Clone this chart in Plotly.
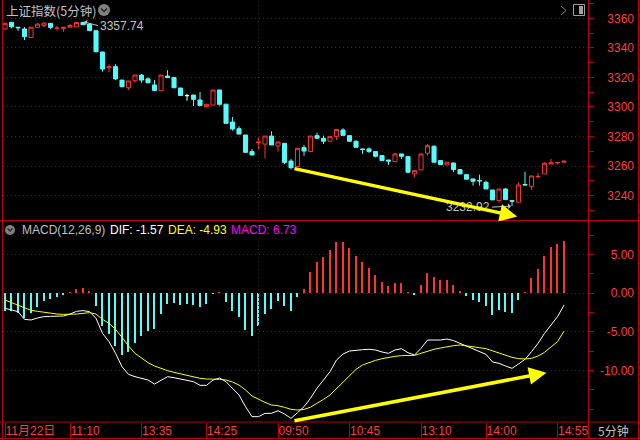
import plotly.graph_objects as go

# ---------------- data ----------------
bar_idx = list(range(87))
opens = [3352.8, 3357.3, 3354.0, 3352.8, 3347.0, 3353.9, 3355.0, 3356.6, 3353.2, 3353.2,
         3354.0, 3354.2, 3357.2, 3356.1, 3351.6, 3337.2, 3326.6, 3327.3, 3318.2, 3313.0,
         3317.8, 3321.6, 3319.0, 3314.9, 3311.0, 3320.9, 3320.0, 3312.8, 3307.7, 3308.1,
         3304.7, 3300.2, 3301.3, 3311.5, 3301.9, 3289.8, 3285.3, 3281.0, 3269.8,
         3276.0, 3274.9, 3280.3, 3273.6, 3275.4, 3263.4, 3259.6, 3272.5, 3269.8, 3280.6,
         3278.8, 3276.8, 3279.9, 3284.4, 3280.6, 3276.8, 3271.6, 3271.6, 3269.8, 3267.1,
         3264.1, 3263.0, 3268.2, 3266.4, 3254.7, 3257.4, 3268.7, 3273.4, 3263.7, 3260.8,
         3262.1, 3257.6, 3254.2, 3251.3, 3250.2, 3249.0, 3243.8, 3236.6, 3244.5, 3236.6,
         3235.5, 3247.5, 3246.3, 3252.8, 3254.7, 3261.4, 3262.1, 3262.6]
highs = [3357.0, 3357.5, 3354.1, 3354.1, 3354.0, 3356.8, 3356.9, 3356.7, 3354.8, 3353.9,
         3356.1, 3357.4, 3357.74, 3356.4, 3352.0, 3337.4, 3328.8, 3329.0, 3318.4, 3317.6,
         3321.6, 3322.3, 3320.1, 3318.2, 3321.6, 3324.9, 3320.2, 3313.0, 3308.8, 3308.2,
         3310.1, 3301.8, 3311.5, 3311.6, 3302.0, 3293.2, 3286.9, 3281.1, 3271.6,
         3279.9, 3280.3, 3283.6, 3276.3, 3275.5, 3264.8, 3272.0, 3274.3, 3280.3, 3282.6,
         3280.6, 3279.9, 3284.7, 3285.6, 3280.7, 3277.3, 3271.7, 3272.7, 3269.9, 3267.2,
         3264.2, 3268.9, 3268.3, 3266.5, 3256.9, 3268.2, 3275.0, 3274.0, 3263.8, 3262.6,
         3262.2, 3257.7, 3254.3, 3251.4, 3254.2, 3250.2, 3243.9, 3244.5, 3245.0, 3236.7,
         3249.0, 3256.2, 3253.3, 3255.3, 3262.6, 3264.8, 3262.4, 3263.3]
lows = [3352.1, 3353.2, 3351.4, 3345.3, 3346.9, 3353.7, 3354.1, 3352.6, 3351.7, 3350.9,
        3353.9, 3354.1, 3355.5, 3351.6, 3337.0, 3323.9, 3323.5, 3318.2, 3313.5, 3311.5,
        3316.4, 3316.4, 3316.0, 3311.0, 3311.0, 3319.8, 3312.8, 3307.7, 3304.2, 3300.6,
        3300.9, 3299.7, 3301.3, 3300.9, 3288.5, 3284.0, 3281.5, 3268.9, 3267.4,
        3271.3, 3265.3, 3274.3, 3269.8, 3261.4, 3257.8, 3259.6, 3267.0, 3269.5, 3278.8,
        3275.0, 3276.8, 3277.7, 3280.8, 3276.8, 3272.7, 3268.2, 3268.9, 3265.9, 3263.7,
        3260.8, 3262.6, 3264.8, 3255.5, 3252.4, 3257.4, 3267.1, 3262.6, 3261.0, 3260.8,
        3255.8, 3254.7, 3251.1, 3246.8, 3246.8, 3244.5, 3237.1, 3235.3, 3237.3, 3232.92,
        3235.5, 3247.2, 3243.8, 3251.9, 3254.7, 3261.4, 3261.0, 3262.6]
closes = [3356.6, 3354.3, 3353.6, 3347.6, 3354.0, 3356.1, 3356.8, 3353.9, 3353.4, 3353.9,
          3355.2, 3357.2, 3355.7, 3351.7, 3337.4, 3325.7, 3327.3, 3319.0, 3313.7, 3317.6,
          3321.6, 3318.2, 3316.4, 3311.2, 3321.6, 3319.9, 3313.0, 3307.8, 3307.7, 3305.2,
          3301.0, 3301.8, 3311.5, 3301.8, 3288.9, 3285.1, 3281.7, 3269.3, 3267.5,
          3276.3, 3280.3, 3274.3, 3276.3, 3262.5, 3258.9, 3272.0, 3270.2, 3280.3, 3278.8,
          3276.8, 3279.9, 3284.7, 3280.8, 3276.8, 3272.7, 3271.2, 3269.8, 3266.6, 3263.7,
          3263.4, 3268.2, 3266.6, 3255.8, 3256.9, 3268.2, 3273.8, 3262.6, 3261.0, 3262.6,
          3257.6, 3254.7, 3251.1, 3249.7, 3250.0, 3244.5, 3237.1, 3244.5, 3237.3, 3236.2,
          3247.2, 3247.2, 3253.3, 3253.0, 3261.9, 3262.3, 3262.4, 3263.3]
macd_hist = [-2.28, -2.28, -2.54, -3.19, -2.54, -1.77, -0.99, -0.73, -0.56, -0.30,
             0.03, 0.47, 0.65, 0.30, -1.64, -4.27, -5.34, -6.85, -7.97, -7.63,
             -6.42, -5.56, -4.87, -4.61, -2.72, -1.42, -1.25, -1.55, -1.42, -1.55,
             -1.77, -1.42, -0.03, 0.13, -1.16, -2.33, -3.10, -4.78, -5.52,
             -4.27, -2.72, -2.07, -1.03, -1.64, -2.33, -0.52, 0.52, 2.72, 4.01,
             4.70, 5.56, 6.64, 6.64, 5.82, 4.83, 4.01, 3.23, 2.33, 1.42,
             0.91, 1.29, 1.29, 0.13, -0.13, 1.03, 2.59, 2.07, 1.68, 1.68,
             1.03, 0.26, -0.34, -0.91, -1.16, -1.68, -2.80, -2.20, -2.41, -2.54,
             -0.91, 0.13, 1.98, 3.10, 4.83, 5.99, 6.34, 6.73]
dif = [-1.98, -2.20, -2.41, -3.41, -3.49, -3.23, -3.06, -3.02, -2.97, -2.97,
       -2.72, -2.37, -2.28, -2.41, -3.28, -5.22, -6.29, -7.80, -9.53, -10.52,
       -10.82, -11.03, -11.25, -11.77, -11.25, -10.82, -10.95, -11.12, -11.25, -11.47,
       -11.94, -11.94, -11.25, -10.99, -11.47, -12.33, -13.19, -14.70, -15.99,
       -15.99, -15.56, -15.56, -15.22, -15.65, -16.21, -15.47, -14.70, -13.60, -12.30,
       -11.25, -10.17, -8.66, -7.89, -7.50, -7.37, -7.33, -7.28, -7.37, -7.63,
       -7.80, -7.37, -7.20, -7.72, -8.02, -7.16, -6.08, -6.08, -6.08, -5.95,
       -6.16, -6.51, -6.85, -7.24, -7.50, -7.93, -8.92, -9.09, -9.44, -9.74,
       -9.18, -8.58, -7.59, -6.51, -5.22, -4.14, -3.06, -1.57]
dea = [-0.91, -1.25, -1.55, -1.98, -2.24, -2.37, -2.50, -2.67, -2.72, -2.76,
       -2.76, -2.72, -2.63, -2.54, -2.72, -3.41, -3.92, -4.70, -5.73, -6.85,
       -7.80, -8.45, -9.01, -9.44, -9.78, -10.04, -10.26, -10.47, -10.69, -10.91,
       -11.03, -11.12, -11.12, -11.16, -11.25, -11.51, -11.90, -12.54, -13.32,
       -13.75, -14.14, -14.48, -14.57, -14.78, -15.04, -15.13, -15.05, -14.77, -14.31,
       -13.75, -13.19, -12.37, -11.47, -10.60, -9.87, -9.31, -8.97, -8.71, -8.49,
       -8.32, -8.19, -8.10, -8.06, -8.06, -7.80, -7.50, -7.28, -7.11, -6.94,
       -6.81, -6.72, -6.81, -6.94, -7.07, -7.20, -7.50, -7.76, -8.02, -8.32,
       -8.49, -8.53, -8.45, -8.15, -7.67, -7.03, -6.29, -4.93]

tick_idx = [0, 10, 21, 31, 42, 53, 64, 74, 85]
tick_text = ["11月22日", "11:10", "13:35", "14:25", "09:50", "10:45", "13:10", "14:00", "14:55"]
price_ticks = [3240, 3260, 3280, 3300, 3320, 3340, 3360]
price_tick_text = ["3240", "3260", "3280", "3300", "3320", "3340", "3360"]
macd_ticks = [-10, -5, 0, 5]
macd_tick_text = ["-10.00", "-5.00", "0.00", "5.00"]
day_break = 39
max_bar, max_price = 12, 3357.74
min_bar, min_price = 78, 3232.92
dif_last, dea_last, macd_last = -1.57, -4.93, 6.73
arrow_price = [(44.3, 3258.5), (78.8, 3225.8)]   # tail, head
arrow_macd = [(44.3, -16.55), (83.3, -10.3)]

# ---------------- styling ----------------
W, H = 640, 440
ML, MR, MT, MB = 3, 0, 0, 18
PW, PH = W - ML - MR, H - MT - MB
def pxx(px):
    return (px - ML) / PW
def pxy(py):
    return 1 - (py - MT) / PH

BORDER = "#c00000"
GRID = "#a00000"
LBL = "#ff3c3c"
RED = "#ff3232"
CYAN = "#54fcfc"
GREY = "#c0c0c0"
YELLOW = "#ffff00"
FONT = "Liberation Sans, Arial, Noto Sans CJK SC, sans-serif"
CJK = "Noto Sans CJK SC, Liberation Sans, sans-serif"

x_range = [-0.31, 89.69]
price_range = [3223.5, 3372.4]
macd_range = [-16.68, 9.31]

doji_mask = [o == c for o, c in zip(opens, closes)]
def pick(vals, keep):
    return [v if k else None for v, k in zip(vals, keep)]
normal = [not d for d in doji_mask]

fig = go.Figure()
fig.add_trace(go.Candlestick(
    x=bar_idx, open=pick(opens, normal), high=pick(highs, normal),
    low=pick(lows, normal), close=pick(closes, normal),
    increasing=dict(line=dict(color=RED, width=1), fillcolor="#000000"),
    decreasing=dict(line=dict(color=CYAN, width=1), fillcolor=CYAN),
    whiskerwidth=0, xaxis="x", yaxis="y", hoverinfo="skip", showlegend=False))
fig.add_trace(go.Candlestick(
    x=bar_idx, open=pick(opens, doji_mask), high=pick(highs, doji_mask),
    low=pick(lows, doji_mask), close=pick(closes, doji_mask),
    increasing=dict(line=dict(color="#ffffff", width=1), fillcolor="#ffffff"),
    decreasing=dict(line=dict(color="#ffffff", width=1), fillcolor="#ffffff"),
    whiskerwidth=0, xaxis="x", yaxis="y", hoverinfo="skip", showlegend=False))

fig.add_trace(go.Bar(
    x=bar_idx, y=macd_hist, width=0.17,
    marker=dict(color=[RED if v >= 0 else CYAN for v in macd_hist], line=dict(width=0)),
    xaxis="x2", yaxis="y2", hoverinfo="skip", showlegend=False))
fig.add_trace(go.Scatter(x=bar_idx, y=dif, mode="lines", line=dict(color="#ffffff", width=1),
                         xaxis="x2", yaxis="y2", hoverinfo="skip", showlegend=False))
fig.add_trace(go.Scatter(x=bar_idx, y=dea, mode="lines", line=dict(color=YELLOW, width=1),
                         xaxis="x2", yaxis="y2", hoverinfo="skip", showlegend=False))
# helpers so label-only axes are drawn
fig.add_trace(go.Scatter(x=[bar_idx[0]], y=[closes[0]], mode="markers", marker=dict(opacity=0),
                         xaxis="x", yaxis="y3", hoverinfo="skip", showlegend=False))
fig.add_trace(go.Scatter(x=[bar_idx[0]], y=[dif[0]], mode="markers", marker=dict(opacity=0),
                         xaxis="x2", yaxis="y4", hoverinfo="skip", showlegend=False))

x_dom = [0, pxx(588)]
common_y = dict(side="right", ticks="outside", ticklen=5, tickcolor=BORDER, tickwidth=1,
                showticklabels=False, showgrid=True, gridcolor=GRID, griddash="1px,3px",
                gridwidth=1, zeroline=False, showline=False, fixedrange=True)
label_y = dict(anchor="free", side="left", position=pxx(634), ticks="", showgrid=False,
               zeroline=False, showline=False, tickfont=dict(color=LBL, size=12, family=FONT))

fig.update_layout(
    width=W, height=H, margin=dict(l=ML, r=MR, t=MT, b=MB),
    paper_bgcolor="#000000", plot_bgcolor="#000000",
    hovermode=False, showlegend=False, boxgap=0.1, bargap=0,
    xaxis=dict(domain=x_dom, range=x_range, anchor="y", showticklabels=False, ticks="",
               showgrid=False, zeroline=False, showline=False, rangeslider=dict(visible=False)),
    xaxis2=dict(domain=x_dom, range=x_range, anchor="y2", matches="x",
                tickmode="array", tickvals=tick_idx, ticktext=tick_text,
                ticks="outside", ticklen=16, tickcolor=BORDER, tickwidth=1,
                ticklabelposition="outside right", ticklabelstandoff=-2,
                tickfont=dict(color=LBL, size=12, family=FONT),
                showgrid=False, zeroline=False, showline=False),
    yaxis=dict(domain=[pxy(220), 1], range=price_range, tickmode="array", tickvals=price_ticks,
               minor=dict(dtick=10, ticks="outside", ticklen=5, tickcolor=BORDER, showgrid=False),
               **common_y),
    yaxis2=dict(domain=[0, pxy(221)], range=macd_range, tickmode="array", tickvals=macd_ticks,
                minor=dict(dtick=2.5, ticks="outside", ticklen=5, tickcolor=BORDER, showgrid=False),
                **common_y),
    yaxis3=dict(overlaying="y", range=price_range, tickmode="array", tickvals=price_ticks,
                ticktext=price_tick_text, **label_y),
    yaxis4=dict(overlaying="y2", range=macd_range, tickmode="array", tickvals=macd_ticks,
                ticktext=macd_tick_text, **label_y),
)

# frame lines
def hline(py, x0=0, x1=W):
    return dict(type="line", xref="paper", yref="paper", x0=pxx(x0), x1=pxx(x1),
                y0=pxy(py), y1=pxy(py), line=dict(color=BORDER, width=1))
def vline(px, y0=0, y1=438):
    return dict(type="line", xref="paper", yref="paper", x0=pxx(px), x1=pxx(px),
                y0=pxy(y0), y1=pxy(y1), line=dict(color=BORDER, width=1))
shapes = [hline(220.5), hline(422), hline(438.5), vline(588.5), vline(638.5, 0, 440), vline(2.5, 0, 440)]
shapes.append(dict(type="line", xref="x", yref="paper", x0=day_break, x1=day_break,
                   y0=0, y1=1, line=dict(color=GRID, width=1, dash="1px,3px")))
# icons
shapes.append(dict(type="circle", xref="paper", yref="paper", x0=pxx(98), x1=pxx(110),
                   y0=pxy(16), y1=pxy(4), fillcolor="#808080", line=dict(width=0)))
shapes.append(dict(type="path", xref="paper", yref="paper",
                   path=f"M {pxx(101)},{pxy(8.5)} L {pxx(104)},{pxy(11.5)} L {pxx(107)},{pxy(8.5)}",
                   line=dict(color="#2a2a2a", width=1.5)))
shapes.append(dict(type="circle", xref="paper", yref="paper", x0=pxx(5), x1=pxx(15),
                   y0=pxy(235), y1=pxy(225), fillcolor="#808080", line=dict(width=0)))
shapes.append(dict(type="path", xref="paper", yref="paper",
                   path=f"M {pxx(7.5)},{pxy(228.5)} L {pxx(10)},{pxy(231)} L {pxx(12.5)},{pxy(228.5)}",
                   line=dict(color="#2a2a2a", width=1.5)))
shapes.append(dict(type="rect", xref="paper", yref="paper", x0=pxx(573.5), x1=pxx(584.5),
                   y0=pxy(15.5), y1=pxy(4.5), line=dict(color="#a0a0a0", width=1)))
shapes.append(dict(type="rect", xref="paper", yref="paper", x0=pxx(579), x1=pxx(583),
                   y0=pxy(14), y1=pxy(6), fillcolor="#a0a0a0", line=dict(width=0)))
shapes.append(dict(type="path", xref="paper", yref="paper",
                   path=f"M {pxx(561)},{pxy(6)} L {pxx(566)},{pxy(10.5)} L {pxx(561)},{pxy(15)}",
                   line=dict(color="#808080", width=1)))
fig.update_layout(shapes=shapes)

ann = []
ann.append(dict(xref="paper", yref="paper", x=pxx(4), y=pxy(10.5), xanchor="left", yanchor="middle",
                text="上证指数(5分钟)", showarrow=False, font=dict(color=GREY, size=12.5, family=CJK)))
legend_items = [(20, "MACD(12,26,9)", GREY), (108, f"DIF: {dif_last:.2f}", "#ffffff"),
                (166, f"DEA: {dea_last:.2f}", YELLOW), (229, f"MACD: {macd_last:.2f}", "#ff00ff")]
for px, txt, col in legend_items:
    ann.append(dict(xref="paper", yref="paper", x=pxx(px), y=pxy(230), xanchor="left",
                    yanchor="middle", text=txt, showarrow=False,
                    font=dict(color=col, size=12, family=FONT)))
ann.append(dict(xref="paper", yref="paper", x=pxx(613), y=pxy(430.5), xanchor="center",
                yanchor="middle", text="5分钟", showarrow=False, font=dict(color=GREY, size=12, family=CJK)))
ann.append(dict(xref="x", yref="y", x=max_bar, y=max_price, ax=15, ay=4, xanchor="left",
                text=f"{max_price:.2f}", showarrow=True, arrowhead=1, arrowsize=1, arrowwidth=1,
                arrowcolor=GREY, standoff=1, font=dict(color=GREY, size=12, family=FONT)))
ann.append(dict(xref="x", yref="y", x=min_bar, y=min_price, ax=-20, ay=1, xanchor="right",
                text=f"{min_price:.2f}", showarrow=True, arrowhead=1, arrowsize=1, arrowwidth=1,
                arrowcolor=GREY, standoff=1, font=dict(color=GREY, size=12, family=FONT)))
for (tail, head), xr, yr in [(arrow_price, "x", "y"), (arrow_macd, "x2", "y2")]:
    ann.append(dict(xref=xr, yref=yr, axref=xr, ayref=yr, x=head[0], y=head[1],
                    ax=tail[0], ay=tail[1], text="", showarrow=True, arrowhead=2,
                    arrowsize=1, arrowwidth=3.5, arrowcolor=YELLOW))
fig.update_layout(annotations=ann)

fig.write_html("out.html", config={"displayModeBar": False},
               post_script="document.body.style.margin='0';document.body.style.overflow='hidden';")
